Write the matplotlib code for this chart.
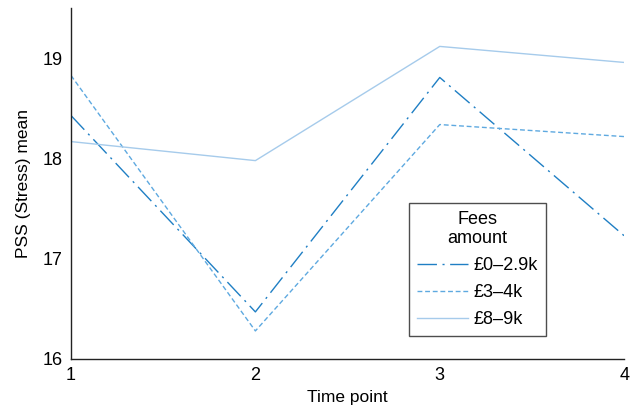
import matplotlib
matplotlib.use("Agg")
import matplotlib.pyplot as plt

plt.rcParams['font.family'] = ['Liberation Sans', 'DejaVu Sans']

time_points = [1, 2, 3, 4]
fees_0_29 = [18.43, 16.47, 18.81, 17.23]
fees_3_4 = [18.83, 16.28, 18.34, 18.22]
fees_8_9 = [18.17, 17.98, 19.12, 18.96]
labels = ['£0–2.9k', '£3–4k', '£8–9k']

fig = plt.figure(figsize=(6.3, 4.13), dpi=100)
ax = fig.add_axes([0.1127, 0.1308, 0.878, 0.849])

ax.plot(time_points, fees_0_29, color='#1f7fc4', lw=1.0, dashes=(14, 4, 1.5, 4), label=labels[0])
ax.plot(time_points, fees_3_4, color='#5ea9e0', lw=1.0, dashes=(3.5, 2), label=labels[1])
ax.plot(time_points, fees_8_9, color='#a6cbeb', lw=1.0, label=labels[2])

ax.set_xlim(1, 4)
ax.set_ylim(16, 19.5)
ax.set_xticks([1, 2, 3, 4])
ax.set_yticks([16, 17, 18, 19])
ax.tick_params(length=0, labelsize=13, pad=6)
for s in ['top', 'right']:
    ax.spines[s].set_visible(False)
for s in ['left', 'bottom']:
    ax.spines[s].set_linewidth(1.0)
    ax.spines[s].set_color('#222222')

ax.set_xlabel('Time point', fontsize=12.5, labelpad=4)
ax.set_ylabel('PSS (Stress) mean', fontsize=12.5, labelpad=8)

leg = ax.legend(title='Fees\namount', loc='upper left', bbox_to_anchor=(0.611, 0.446),
                fontsize=13, title_fontsize=13, frameon=True, fancybox=False,
                handlelength=2.8, handletextpad=0.3, labelspacing=0.55,
                borderpad=0.45, borderaxespad=0)
leg.get_frame().set_edgecolor('#222222')
leg.get_frame().set_linewidth(1.0)
leg.get_title().set_multialignment('center')

fig.savefig('out.png', dpi=100)
